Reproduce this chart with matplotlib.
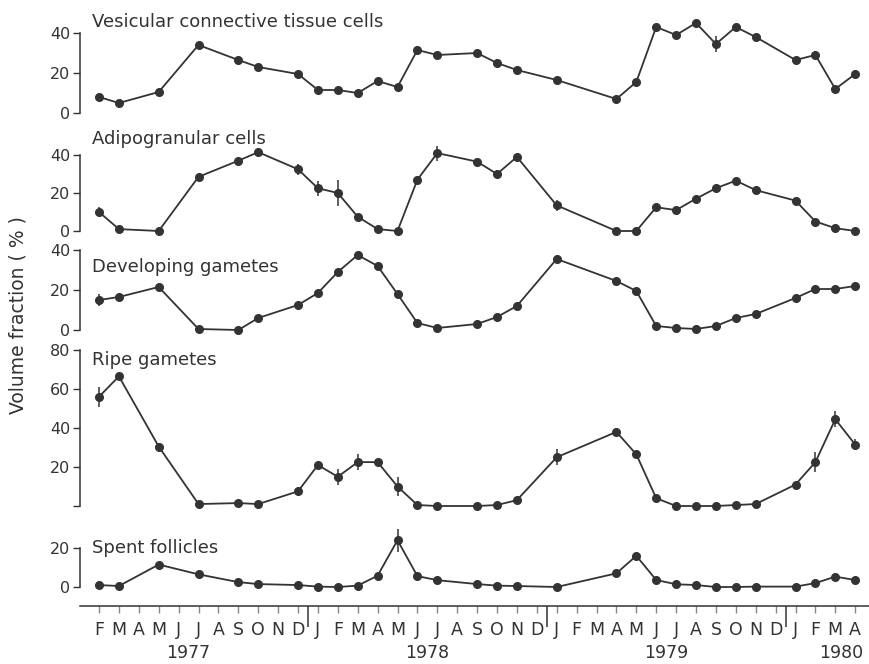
import matplotlib
matplotlib.use("Agg")
import matplotlib.pyplot as plt
import matplotlib.transforms as mtransforms
import numpy as np

# ---- data (month index: 0 = Feb 1977 ... 38 = Apr 1980) ----
months = [0, 1, 3, 5, 7, 8, 10, 11, 12, 13, 14, 15, 16, 17, 19, 20, 21,
          23, 26, 27, 28, 29, 30, 31, 32, 33, 35, 36, 37, 38]

vesicular = [8, 5, 10.5, 34, 26.5, 23, 19.5, 11.5, 11.5, 10, 16, 13, 31.5, 29,
             30, 25, 21.5, 16.5, 7, 15.5, 43, 39, 45, 34.5, 43, 38, 26.5, 29, 12, 19.5]
vesicular_err = [0, 0, 0, 0, 0, 0, 0, 0, 0, 0, 0, 0, 0, 0,
                 0, 0, 0, 0, 0, 0, 0, 0, 0, 4, 0, 0, 0, 2, 0, 2]

adipogranular = [10, 1, 0, 28.5, 37, 41.5, 32.5, 22.5, 20, 7.5, 1, 0, 27, 41,
                 36.5, 30, 39, 13.5, 0, 0, 12.5, 11, 17, 22.5, 26.5, 21.5, 16, 5, 1.5, 0]
adipogranular_err = [2.5, 0, 0, 0, 0, 2, 3, 4, 7, 0, 0, 0, 0, 4,
                     0, 0, 0, 3, 0, 0, 0, 0, 0, 0, 0, 0, 0, 1.5, 0, 0]

developing = [15, 16.5, 21.5, 0.5, 0, 6, 12.5, 18.5, 29, 37.5, 32, 18, 3.5, 1,
              3, 6.5, 12, 35.5, 24.5, 19.5, 2, 1, 0.5, 2, 6, 8, 16, 20.5, 20.5, 22]
developing_err = [3, 0, 0, 0, 0, 0, 0, 0, 0, 0, 0, 0, 0, 0,
                  0, 0, 0, 2, 0, 0, 0, 0, 0, 0, 0, 0, 0, 0, 0, 2]

ripe = [56, 66.5, 30.5, 1, 1.5, 1, 7.5, 21, 15, 22.5, 22.5, 10, 0.5, 0,
        0, 0.5, 3, 25, 38, 26.5, 4, 0, 0, 0, 0.5, 1, 11, 22.5, 44.5, 31.5]
ripe_err = [5, 0, 0, 0, 0, 0, 0, 0, 4, 4, 0, 5, 0, 0,
            0, 0, 0, 4, 2, 0, 0, 0, 0, 0, 0, 0, 0, 5, 4, 3]

spent = [1, 0.5, 11.5, 6.5, 2.5, 1.5, 1, 0.2, 0, 0.7, 5.8, 24, 5.6, 3.5,
         1.5, 0.7, 0.5, 0, 7, 16, 3.6, 1.4, 1, 0, 0, 0.2, 0.2, 2, 5.3, 3.6]
spent_err = [0, 0, 0, 0, 0, 0, 0, 0, 0, 0, 0, 6, 0, 0,
             0, 0, 0, 0, 0, 0, 0, 0, 0, 0, 0, 0, 0, 0, 0, 0]

titles = ["Vesicular connective tissue cells", "Adipogranular cells",
          "Developing gametes", "Ripe gametes", "Spent follicles"]

month_labels = list("FMAMJJASOND" + "JFMAMJJASOND" + "JFMAMJJASOND" + "JFMA")
year_labels = ["1977", "1978", "1979", "1980"]
year_pos = [4.5, 16.5, 28.5, 37.3]
year_breaks = [10.5, 22.5, 34.5]

# ---- layout (pixels) ----
W, H = 869, 664
plt.rcParams['font.family'] = ['DejaVu Sans']
fig = plt.figure(figsize=(W / 100, H / 100), dpi=100)

left_px, right_px = 80, 869
px_per_month = 19.9
m0_px = 99
xlo = (left_px - m0_px) / px_per_month
xhi = (right_px - m0_px) / px_per_month

INK = "#333333"

def make_axes(y0_px, ppu, lo, hi):
    top_px = y0_px - hi * ppu
    bot_px = y0_px - lo * ppu
    rect = [left_px / W, 1 - bot_px / H, (right_px - left_px) / W, (bot_px - top_px) / H]
    ax = fig.add_axes(rect)
    ax.set_xlim(xlo, xhi)
    ax.set_ylim(lo, hi)
    ax.patch.set_alpha(0)
    for s in ["top", "right", "bottom"]:
        ax.spines[s].set_visible(False)
    ax.spines["left"].set_color(INK)
    ax.spines["left"].set_linewidth(1.1)
    ax.set_xticks([])
    ax.tick_params(axis="y", direction="out", length=5, width=1.0, color=INK,
                   labelsize=11.5, labelcolor=INK, pad=2)
    return ax

panels = [
    (113, 2.0, -3, 47, vesicular, vesicular_err, [0, 20, 40], ["0", "20", "40"], (0, 40), 22),
    (231, 1.9, -3, 45, adipogranular, adipogranular_err, [0, 20, 40], ["0", "20", "40"], (0, 40), 139),
    (330, 2.0, -3, 42, developing, developing_err, [0, 20, 40], ["0", "20", "40"], (0, 40), 267),
    (506, 1.95, -2, 82, ripe, ripe_err, [0, 20, 40, 60, 80], ["", "20", "40", "60", "80"], (0, 80), 360),
    (587, 1.95, -3, 30, spent, spent_err, [0, 20], ["0", "20"], (0, 20), 548),
]

for (y0, ppu, lo, hi, vals, errs, yt, ytl, bounds, title_y), title in zip(panels, titles):
    ax = make_axes(y0, ppu, lo, hi)
    ax.spines["left"].set_bounds(*bounds)
    ax.set_yticks(yt)
    ax.set_yticklabels(ytl)
    ax.plot(months, vals, "-o", color=INK, lw=1.3, ms=5.5, clip_on=False, zorder=3)
    e = np.array(errs, dtype=float)
    mask = e > 0
    ax.errorbar(np.array(months)[mask], np.array(vals)[mask], yerr=e[mask], fmt="none",
                ecolor=INK, elinewidth=1.1, capsize=0, clip_on=False, zorder=2)
    fig.text(92 / W, 1 - title_y / H, title, fontsize=13, color=INK, va="center", ha="left")

# ---- shared month axis ----
axx = fig.add_axes([left_px / W, 1 - 606 / H, (right_px - left_px) / W, 0.001])
axx.set_xlim(xlo, xhi)
axx.patch.set_alpha(0)
for s in ["top", "right", "left"]:
    axx.spines[s].set_visible(False)
axx.spines["bottom"].set_color(INK)
axx.spines["bottom"].set_linewidth(1.1)
axx.set_yticks([])
axx.set_xticks(range(len(month_labels)))
axx.set_xticklabels(month_labels)
axx.tick_params(axis="x", direction="out", length=5, width=1.0, color="#888888",
                labelsize=12.5, labelcolor=INK, pad=6)
axx.set_xticks(year_breaks, minor=True)
axx.tick_params(axis="x", which="minor", direction="out", length=15, width=1.1, color=INK)
ytrans = mtransforms.blended_transform_factory(axx.transData, fig.transFigure)
for yl, yp in zip(year_labels, year_pos):
    axx.text(yp, 1 - 653 / H, yl, transform=ytrans, ha="center", va="center",
             fontsize=12.5, color=INK)

fig.text(18 / W, 1 - 315 / H, "Volume fraction ( % )", rotation=90, ha="center", va="center",
         fontsize=13.5, color=INK)

fig.savefig("out.png", dpi=100, facecolor="white")
